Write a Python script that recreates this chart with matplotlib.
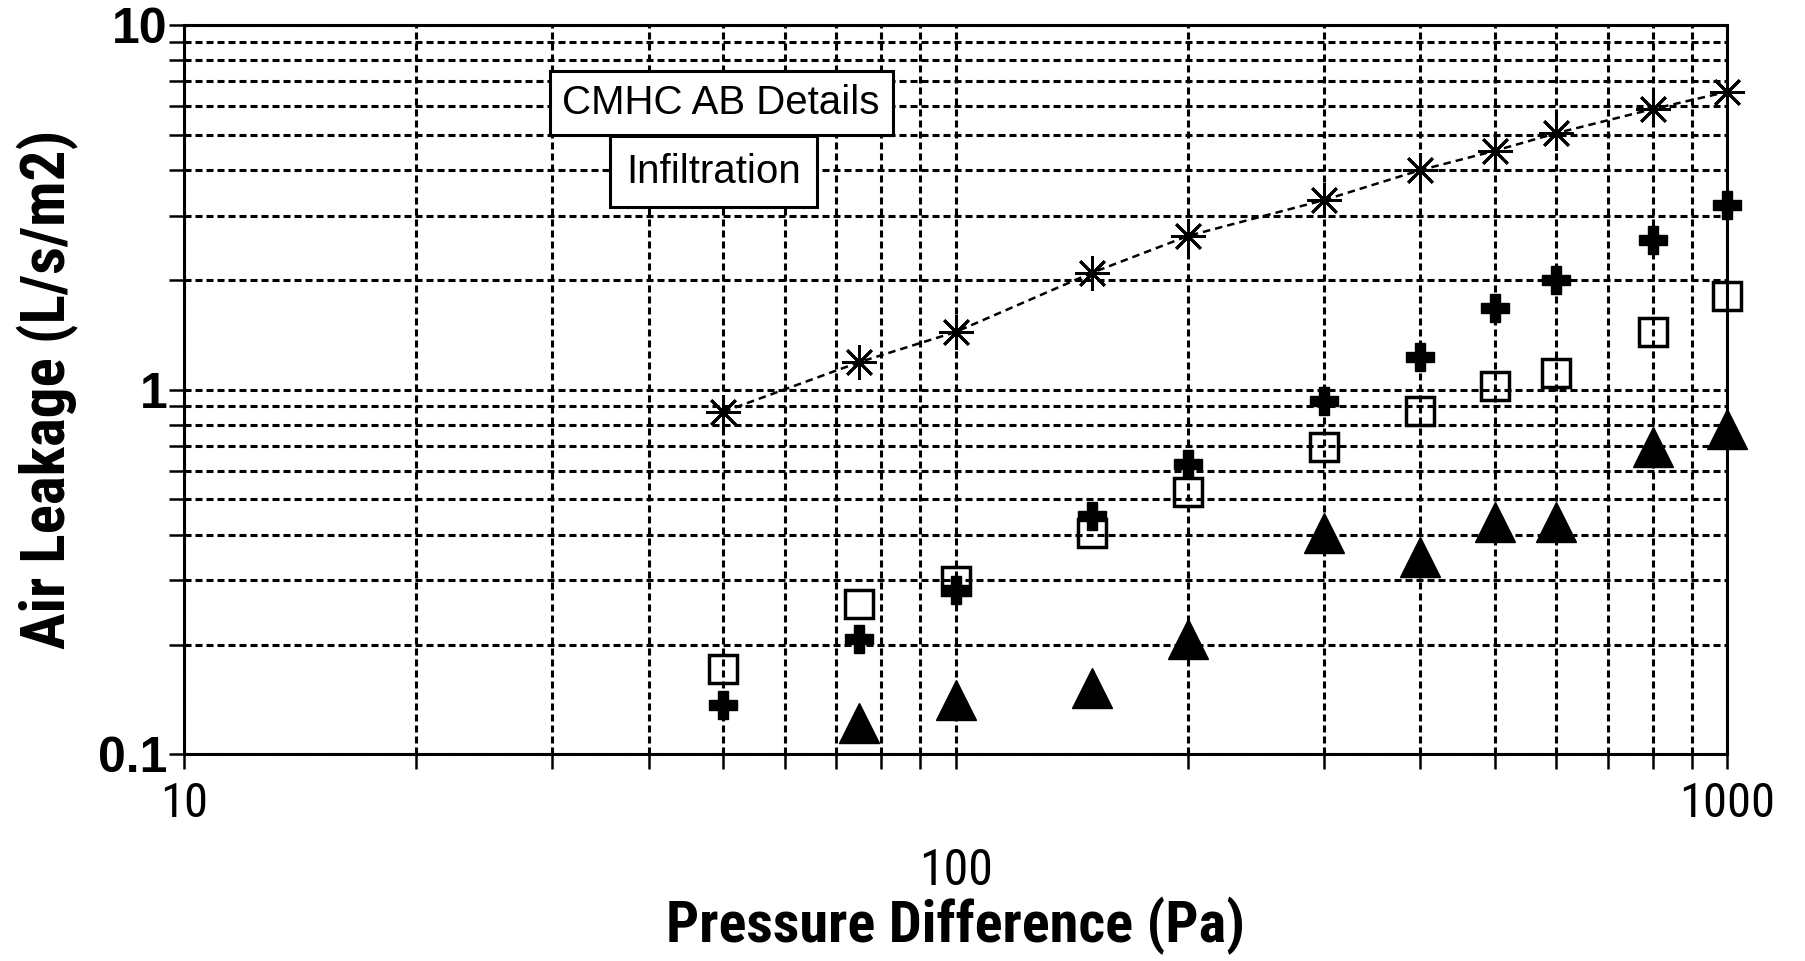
import numpy as np
import matplotlib
matplotlib.use('Agg')
import matplotlib.pyplot as plt
from matplotlib.ticker import FixedLocator, NullFormatter, LogLocator

plt.rcParams['font.family'] = ['Roboto Condensed', 'Liberation Sans', 'DejaVu Sans']
wide = ['Liberation Sans', 'DejaVu Sans']

# pressure difference (Pa)
pressure = [50, 75, 100, 150, 200, 300, 400, 500, 600, 800, 1000]
# air leakage (L/s/m2), four detail series
star_vals = [0.87, 1.19, 1.44, 2.09, 2.64, 3.31, 4.0, 4.52, 5.05, 5.88, 6.56]
plus_vals = [0.137, 0.207, 0.283, 0.451, 0.626, 0.933, 1.23, 1.68, 2.0, 2.57, 3.21]
square_vals = [0.171, 0.259, 0.298, 0.404, 0.525, 0.698, 0.874, 1.026, 1.11, 1.44, 1.81]
tri_pressure = [75, 100, 150, 200, 300, 400, 500, 600, 800, 1000]
tri_vals = [0.122, 0.141, 0.152, 0.207, 0.404, 0.347, 0.434, 0.434, 0.698, 0.778]

xticks = [10, 100, 1000]
xticklabels = ['10', '', '1000']
yticks = [0.1, 1, 10]
yticklabels = ['0.1', '1', '10']

fig = plt.figure(figsize=(18.05, 9.61), dpi=100)
ax = fig.add_axes([0.102, 0.215, 0.855, 0.759])
ax.set_xscale('log')
ax.set_yscale('log')
ax.set_xlim(10, 1000)
ax.set_ylim(0.1, 10)

# short-dash grid everywhere
gstyle = dict(color='k', linestyle=(0, (2.3, 1.3)), linewidth=2.2)
ax.grid(True, which='both', axis='both', **gstyle)
ax.set_axisbelow(True)

ax.plot(pressure, star_vals, color='k', linestyle=(0, (3, 2)), linewidth=1.8,
        marker=(8, 2, 0), markersize=25, markeredgewidth=2.0, zorder=3, clip_on=False)
ax.plot(pressure, plus_vals, linestyle='none', marker='P', markersize=20,
        color='k', zorder=3, clip_on=False)
ax.plot(pressure, square_vals, linestyle='none', marker='s', markersize=20,
        markerfacecolor='none', markeredgecolor='k', markeredgewidth=2.5, zorder=3,
        clip_on=False)
ax.plot(tri_pressure, tri_vals, linestyle='none', marker='^', markersize=29,
        color='k', zorder=3, clip_on=False)

ax.xaxis.set_major_locator(FixedLocator(xticks))
ax.set_xticklabels(xticklabels)
ax.xaxis.set_minor_locator(LogLocator(base=10, subs=np.arange(2, 10)))
ax.xaxis.set_minor_formatter(NullFormatter())
ax.yaxis.set_major_locator(FixedLocator(yticks))
ax.set_yticklabels(yticklabels, fontweight='bold', family=wide)
ax.yaxis.set_minor_locator(LogLocator(base=10, subs=np.arange(2, 10)))
ax.yaxis.set_minor_formatter(NullFormatter())

ax.tick_params(axis='both', which='both', direction='out', length=11, width=1.8,
               top=False, right=False)
ax.tick_params(axis='x', which='major', labelsize=35, pad=8)
ax.tick_params(axis='y', which='major', labelsize=36, pad=1)
for s in ax.spines.values():
    s.set_linewidth(2.2)

ax.text(100, -0.16, '100', transform=ax.get_xaxis_transform(),
        ha='center', va='center', fontsize=36)

ax.set_xlabel('Pressure Difference (Pa)', fontsize=42, fontweight='bold', va='top')
ax.xaxis.set_label_coords(0.5, -0.195)
ax.set_ylabel('Air Leakage (L/s/m2)', fontsize=44, fontweight='bold')
ax.yaxis.set_label_coords(-0.068, 0.5)

ax.text(0.348, 0.893, 'CMHC AB Details', transform=ax.transAxes, ha='center',
        va='center', fontsize=29, family=wide, zorder=5,
        bbox=dict(boxstyle='square,pad=0.32', facecolor='white', edgecolor='k', linewidth=2.2))
ax.text(0.343, 0.799, 'Infiltration', transform=ax.transAxes, ha='center',
        va='center', fontsize=29, family=wide, zorder=6,
        bbox=dict(boxstyle='square,pad=0.4', facecolor='white', edgecolor='k', linewidth=2.2))

fig.savefig('out.png', dpi=100)
